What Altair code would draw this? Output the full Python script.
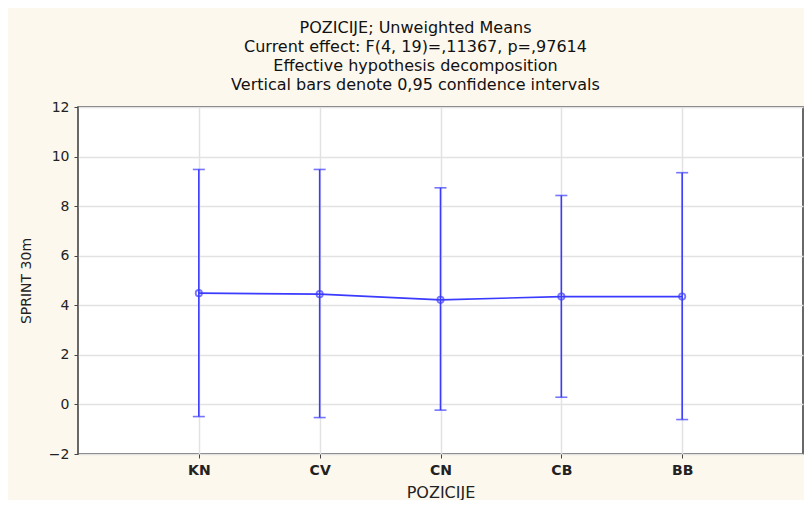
import altair as alt
import pandas as pd

categories = ["KN", "CV", "CN", "CB", "BB"]
means = [4.49, 4.45, 4.22, 4.35, 4.35]
lower = [-0.49, -0.53, -0.23, 0.29, -0.61]
upper = [9.48, 9.48, 8.74, 8.43, 9.35]
y_ticks = [-2, 0, 2, 4, 6, 8, 10, 12]
title_lines = [
    "POZICIJE; Unweighted Means",
    "Current effect: F(4, 19)=,11367, p=,97614",
    "Effective hypothesis decomposition",
    "Vertical bars denote 0,95 confidence intervals",
]

df = pd.DataFrame({"POZICIJE": categories, "mean": means, "lo": lower, "hi": upper})

BLUE = "#3b3bff"
FONT = "DejaVu Sans"

x_enc = alt.X(
    "POZICIJE:N",
    sort=categories,
    scale=alt.Scale(type="point", padding=1),
    axis=alt.Axis(
        title="POZICIJE",
        labelAngle=0,
        grid=True,
        gridColor="#e2e2e2",
        gridWidth=1.5,
        domain=False,
        ticks=True,
        tickSize=4,
        tickColor="#444444",
        labelFont=FONT,
        labelFontSize=14,
        labelFontWeight="bold",
        labelColor="#222222",
        labelPadding=5,
        titleFont=FONT,
        titleFontSize=16,
        titleFontWeight="normal",
        titleColor="#222222",
        titlePadding=7,
    ),
)

y_scale = alt.Scale(domain=[-2, 12], nice=False, zero=False)
y_axis = alt.Axis(
    title="SPRINT 30m",
    values=y_ticks,
    grid=True,
    gridColor="#e2e2e2",
    gridWidth=1.5,
    domain=False,
    ticks=True,
    tickSize=4,
    tickColor="#444444",
    labelFont=FONT,
    labelFontSize=14,
    labelColor="#222222",
    labelPadding=5,
    titleFont=FONT,
    titleFontSize=14,
    titleFontWeight="normal",
    titleColor="#222222",
    titlePadding=15,
)

base = alt.Chart(df)

rules = base.mark_rule(color=BLUE, strokeWidth=1.6).encode(
    x=x_enc,
    y=alt.Y("lo:Q", scale=y_scale, axis=y_axis),
    y2="hi:Q",
)

caps_hi = base.mark_tick(color=BLUE, orient="horizontal", size=12, thickness=1.6).encode(
    x=alt.X("POZICIJE:N", sort=categories), y=alt.Y("hi:Q")
)
caps_lo = base.mark_tick(color=BLUE, orient="horizontal", size=12, thickness=1.6).encode(
    x=alt.X("POZICIJE:N", sort=categories), y=alt.Y("lo:Q")
)

line = base.mark_line(color=BLUE, strokeWidth=1.6).encode(
    x=alt.X("POZICIJE:N", sort=categories), y=alt.Y("mean:Q")
)

points = base.mark_point(color=BLUE, filled=False, size=40, strokeWidth=1.8, shape="circle").encode(
    x=alt.X("POZICIJE:N", sort=categories), y=alt.Y("mean:Q")
)

chart = (
    alt.layer(rules, line, caps_hi, caps_lo, points)
    .properties(
        width=725,
        height=347,
        background="#fdf8ee",
        autosize=alt.AutoSizeParams(type="none"),
        padding={"left": 70, "top": 99, "right": 1, "bottom": 46},
        title=alt.TitleParams(
            text=title_lines,
            anchor="middle",
            font=FONT,
            fontSize=16,
            fontWeight="normal",
            color="#111111",
            lineHeight=19,
            offset=7,
            dx=-25,
        ),
    )
    .configure_view(stroke="#444444", strokeWidth=1.6, fill="white")
)

chart.save("out.html", embed_options={"renderer": "svg", "actions": False})
